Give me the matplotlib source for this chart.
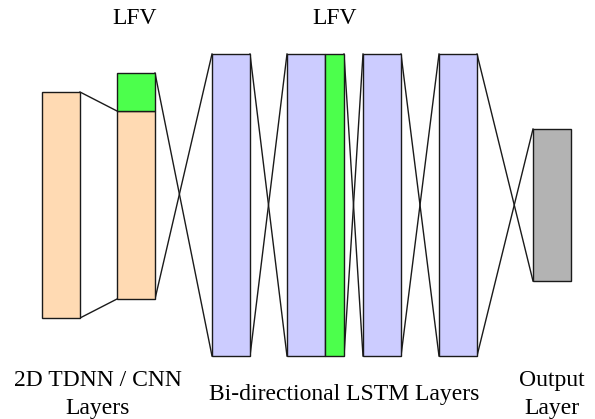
import matplotlib
matplotlib.use("Agg")
import matplotlib.pyplot as plt
from matplotlib.patches import Rectangle

W, H = 595, 419

# boxes: (left, top, right, bottom) in pixel units, colour
box_left = [42, 117, 212, 287, 325, 363, 439, 533]
box_right = [80, 155, 250, 325, 344, 401, 477, 571]
box_top = [92, 111, 54, 54, 54, 54, 54, 129]
box_bottom = [318, 299, 356, 356, 356, 356, 356, 281]
box_colors = ["#FFDAB3", "#FFDAB3", "#CCCCFF", "#CCCCFF", "#4CFF4C",
              "#CCCCFF", "#CCCCFF", "#B3B3B3"]

# LFV block stacked on the second CNN layer
lfv_left, lfv_right, lfv_top, lfv_bottom = 117, 155, 73, 111

# connections: (from box, to box, crossed)
links = [(0, 1, False), (1, 2, True), (2, 3, True), (4, 5, True),
         (5, 6, True), (6, 7, True)]

# caption lines: text, centre x, baseline y
caption_text = ["2D TDNN / CNN", "Layers", "Bi-directional LSTM Layers", "Output", "Layer"]
caption_x = [98, 98, 344, 552, 552]
caption_y = [386, 414, 400, 386, 414]

fig = plt.figure(figsize=(W / 100, H / 100), dpi=100)
ax = fig.add_axes([0, 0, 1, 1])
ax.set_xlim(0, W)
ax.set_ylim(H, 0)
ax.axis("off")

edge = "#1a1a1a"
for l, r, t, b, c in zip(box_left, box_right, box_top, box_bottom, box_colors):
    ax.add_patch(Rectangle((l, t), r - l, b - t, facecolor=c, edgecolor=edge, lw=1.0, zorder=2))
ax.add_patch(Rectangle((lfv_left, lfv_top), lfv_right - lfv_left, lfv_bottom - lfv_top,
                       facecolor="#4CFF4C", edgecolor=edge, lw=1.0, zorder=2))

for a, b, crossed in links:
    x0, x1 = box_right[a], box_left[b]
    t0, b0 = box_top[a], box_bottom[a]
    if a == 1:
        t0 = lfv_top
    t1, b1 = box_top[b], box_bottom[b]
    if crossed:
        ax.plot([x0, x1], [t0, b1], color=edge, lw=1.0, zorder=1)
        ax.plot([x0, x1], [b0, t1], color=edge, lw=1.0, zorder=1)
    else:
        ax.plot([x0, x1], [t0, t1], color=edge, lw=1.0, zorder=1)
        ax.plot([x0, x1], [b0, b1], color=edge, lw=1.0, zorder=1)

font = dict(family="Liberation Serif", fontsize=17, color="black")
ax.text((box_left[1] + box_right[1]) / 2 - 1, 24, "LFV", ha="center", va="baseline", **font)
ax.text((box_left[4] + box_right[4]) / 2, 24, "LFV", ha="center", va="baseline", **font)
for s, x, y in zip(caption_text, caption_x, caption_y):
    ax.text(x, y, s, ha="center", va="baseline", **font)

fig.savefig("out.png", dpi=100)
